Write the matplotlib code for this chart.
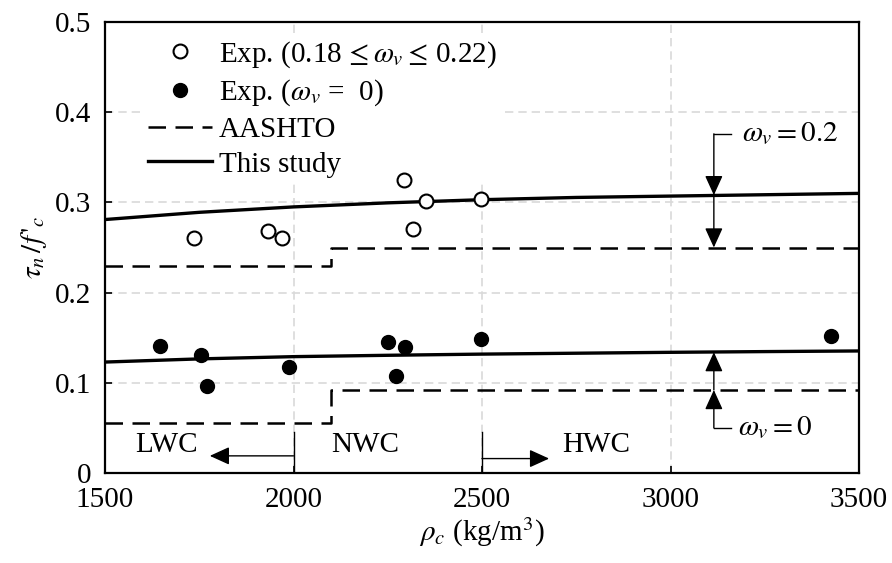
import matplotlib
matplotlib.use("Agg")
import matplotlib.pyplot as plt
import numpy as np

plt.rcParams['font.family'] = ['Liberation Serif', 'DejaVu Serif']
plt.rcParams['mathtext.fontset'] = 'stix'
plt.rcParams['font.size'] = 21

rho_open = [1736, 1933, 1969, 2292, 2351, 2318, 2497]
tau_open = [0.260, 0.2686, 0.260, 0.325, 0.301, 0.271, 0.304]
rho_fill = [1647, 1755, 1771, 1987, 2251, 2297, 2272, 2497, 3427]
tau_fill = [0.141, 0.131, 0.0965, 0.118, 0.1456, 0.140, 0.107, 0.149, 0.152]

# AASHTO steps
rho_aash = [1500, 2100, 2100, 3500]
aash_02 = [0.229, 0.229, 0.250, 0.250]
aash_0 = [0.055, 0.055, 0.092, 0.092]

# this study curves
rho_curve = [1500, 1750, 2000, 2250, 2500, 2750, 3000, 3250, 3500]
curve_02 = [0.281, 0.289, 0.295, 0.2995, 0.303, 0.3055, 0.307, 0.3085, 0.310]
curve_0 = [0.123, 0.1265, 0.129, 0.1305, 0.1318, 0.1328, 0.1338, 0.1346, 0.1353]

fig = plt.figure(figsize=(8.92, 5.63), dpi=100)
ax = fig.add_axes([105/892, 1-473/563, (859-105)/892, (473-22)/563])

dash = (0, (7, 3.8))
ax.plot(rho_open, tau_open, 'o', mfc='white', mec='black', mew=1.5, ms=10,
        label=r'Exp. (0.18$\,\leq\omega_v\leq\,$0.22)', zorder=6)
ax.plot(rho_fill, tau_fill, 'o', mfc='black', mec='black', ms=10,
        label=r'Exp. ($\omega_v$ =  0)', zorder=6)
ax.plot(rho_aash, aash_02, 'k', ls=dash, lw=1.8, label='AASHTO')
ax.plot(rho_curve, curve_02, 'k-', lw=2.4, label='This study')
ax.plot(rho_aash, aash_0, 'k', ls=dash, lw=1.8)
ax.plot(rho_curve, curve_0, 'k-', lw=2.4)

ax.set_xlim(1500, 3500)
ax.set_ylim(0, 0.5)
ax.set_xticks([1500, 2000, 2500, 3000, 3500])
ax.set_yticks([0, 0.1, 0.2, 0.3, 0.4, 0.5])
ax.set_yticklabels(['0', '0.1', '0.2', '0.3', '0.4', '0.5'])
ax.tick_params(direction='in', length=5, width=1.2, pad=10)
ax.grid(True, color='#d9d9d9', ls=(0, (5, 3)), lw=1.2)
for s in ax.spines.values():
    s.set_linewidth(1.6)

ax.set_xlabel(r'$\rho_c$ (kg/m$^3$)', labelpad=2)
ax.set_ylabel(r"$\tau_n\,/f\,'_c$", labelpad=4)

leg = ax.legend(loc='upper left', bbox_to_anchor=(0.045, 0.982), frameon=True,
                edgecolor='none', facecolor='white', framealpha=1,
                handlelength=2.2, handletextpad=0.25, labelspacing=0.28,
                borderpad=0.2, borderaxespad=0.1)
leg.set_zorder(4)

arrow = dict(arrowstyle='-|>,head_length=0.55,head_width=0.25', color='k',
             lw=1, mutation_scale=22, shrinkA=0, shrinkB=0)

# omega = 0.2 annotation
xa = 3115
ax.plot([xa, xa + 45], [0.376, 0.376], 'k-', lw=1)
ax.annotate('', xy=(xa, 0.308), xytext=(xa, 0.376), arrowprops=arrow)
ax.annotate('', xy=(xa, 0.250), xytext=(xa, 0.308), arrowprops=arrow)
ax.text(3190, 0.376, r'$\omega_v = 0.2$', ha='left', va='center', fontsize=21)

# omega = 0 annotation
ax.plot([xa, xa + 45], [0.050, 0.050], 'k-', lw=1)
ax.annotate('', xy=(xa, 0.092), xytext=(xa, 0.050), arrowprops=arrow)
ax.annotate('', xy=(xa, 0.134), xytext=(xa, 0.092), arrowprops=arrow)
ax.text(3180, 0.050, r'$\omega_v = 0$', ha='left', va='center', fontsize=21)

# density class labels
ax.plot([2000, 2000], [0, 0.046], 'k-', lw=1)
ax.plot([2500, 2500], [0, 0.046], 'k-', lw=1)
ax.annotate('', xy=(1778, 0.019), xytext=(2000, 0.019), arrowprops=arrow)
ax.annotate('', xy=(2678, 0.016), xytext=(2500, 0.016), arrowprops=arrow)
ax.text(1662, 0.031, 'LWC', ha='center', va='center')
ax.text(2190, 0.031, 'NWC', ha='center', va='center')
ax.text(2712, 0.031, 'HWC', ha='left', va='center')

fig.savefig('out.png', dpi=100)
